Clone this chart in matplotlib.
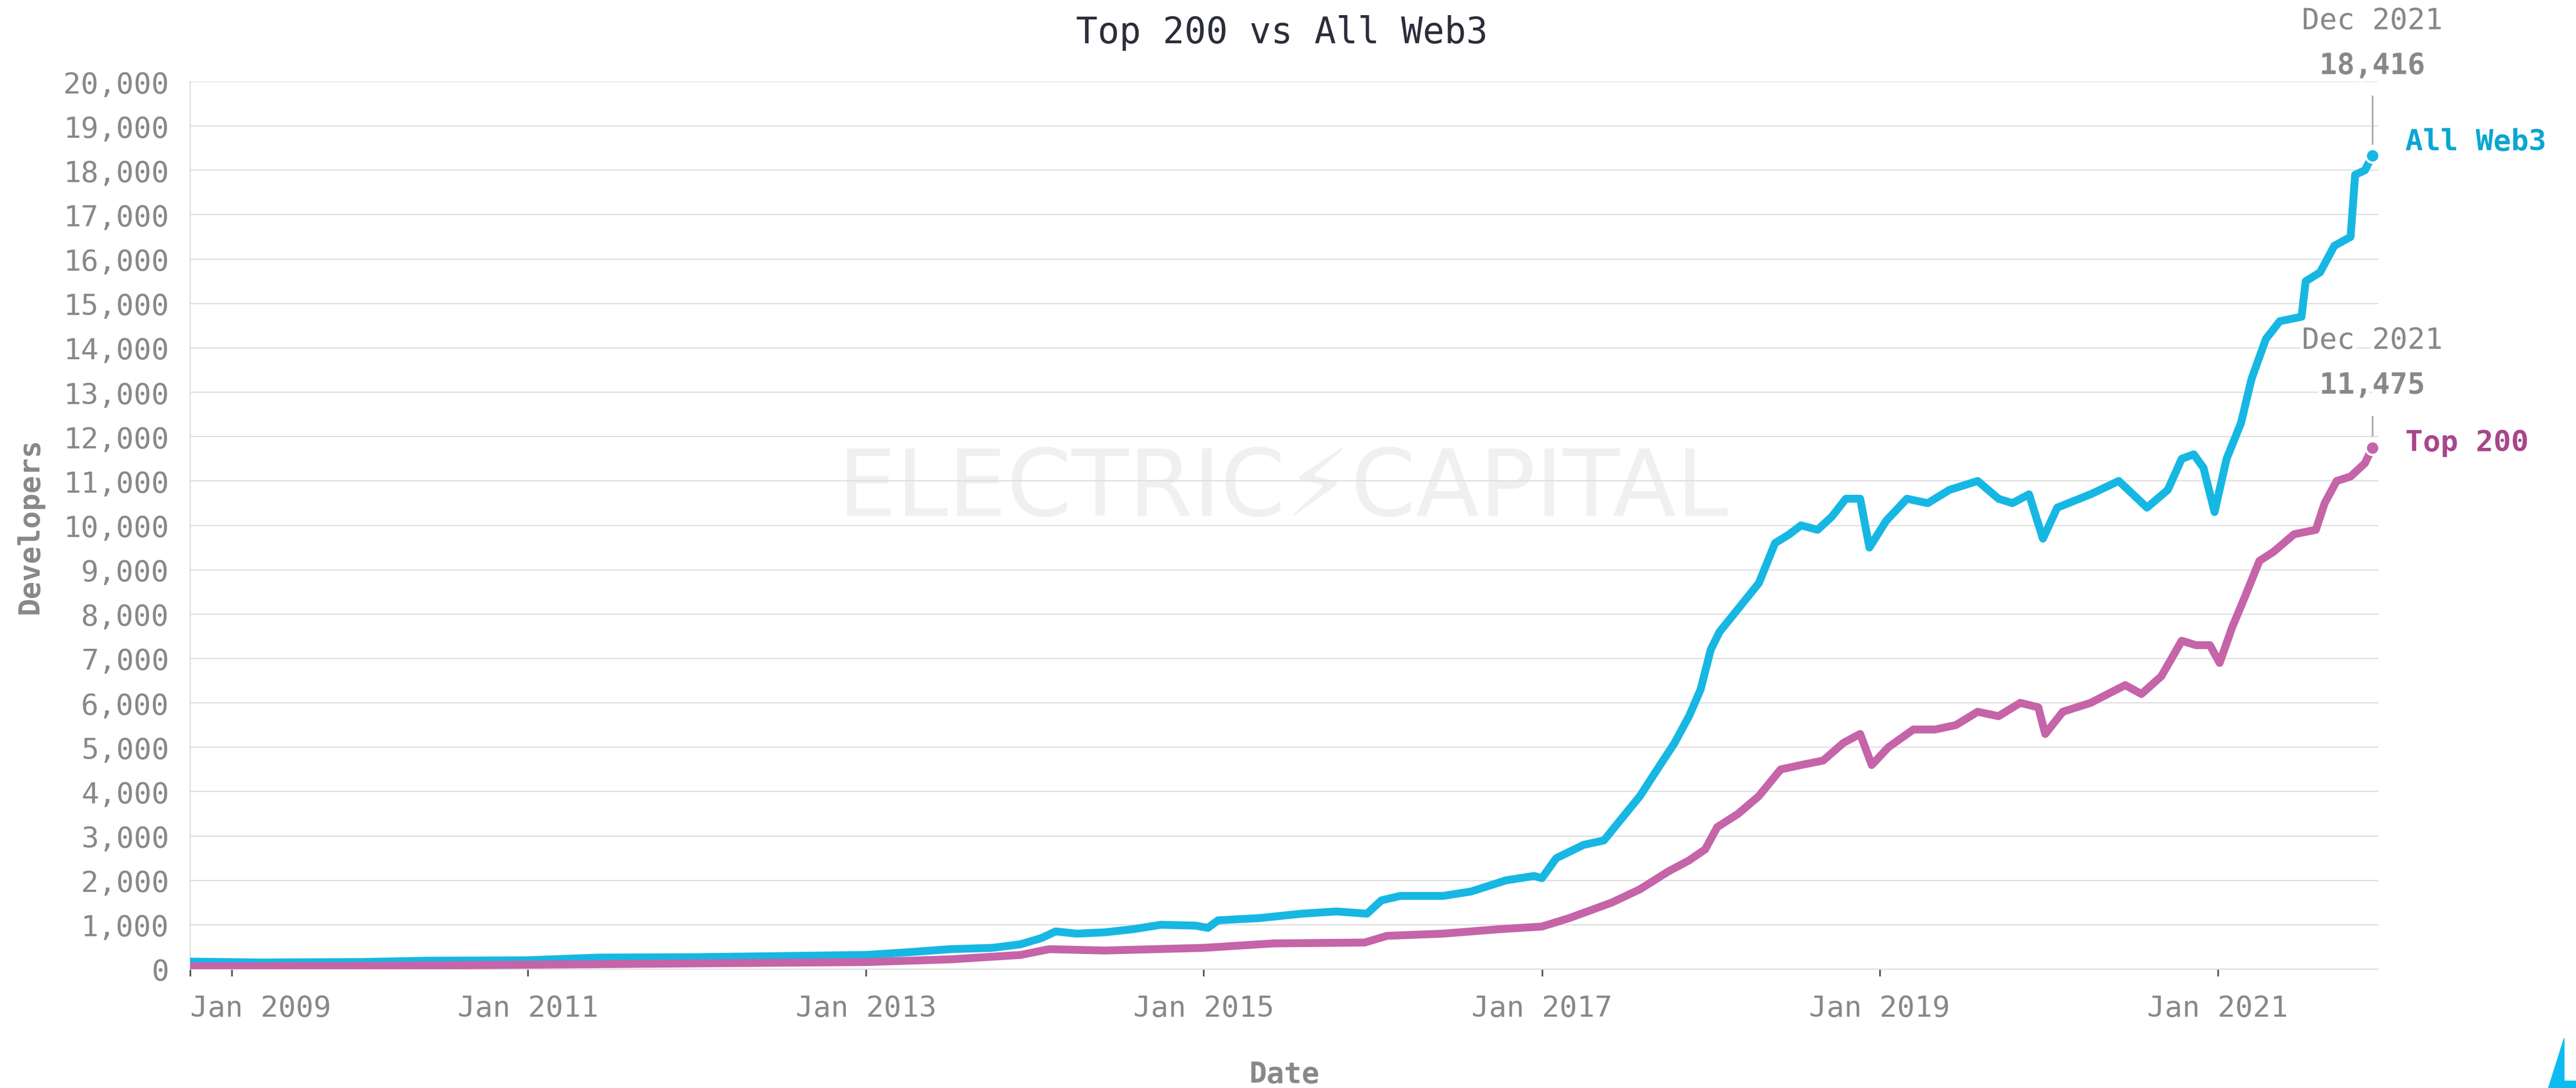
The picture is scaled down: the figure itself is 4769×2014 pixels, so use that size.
import pandas as pd
import numpy as np
import matplotlib.pyplot as plt
import matplotlib.dates as mdates
import matplotlib.patheffects as pe
from matplotlib.patches import Polygon
from matplotlib.ticker import FuncFormatter

# All Web3 developers
web3_dates = [
    "2009-01-01", "2009-06-01", "2010-01-01", "2010-06-01", "2011-01-01", "2011-06-01",
    "2012-01-01", "2012-06-01", "2013-01-01", "2013-04-01", "2013-07-01", "2013-10-01",
    "2013-12-01", "2014-01-15", "2014-02-15", "2014-04-01", "2014-06-01", "2014-08-01",
    "2014-10-01", "2014-12-15", "2015-01-10", "2015-02-01", "2015-05-01", "2015-08-01",
    "2015-10-15", "2015-12-20", "2016-01-20", "2016-03-01", "2016-06-01", "2016-08-01",
    "2016-10-15", "2016-12-15", "2017-01-01", "2017-02-01", "2017-04-01", "2017-05-15",
    "2017-06-15", "2017-08-01", "2017-09-01", "2017-10-15", "2017-11-15", "2017-12-10",
    "2018-01-01", "2018-01-20", "2018-02-20", "2018-04-15", "2018-05-20", "2018-06-20",
    "2018-07-15", "2018-08-20", "2018-09-20", "2018-10-20", "2018-11-20", "2018-12-10",
    "2019-01-15", "2019-03-01", "2019-04-15", "2019-06-01", "2019-08-01", "2019-09-15",
    "2019-10-15", "2019-11-20", "2019-12-20", "2020-01-20", "2020-04-01", "2020-06-01",
    "2020-08-01", "2020-09-15", "2020-10-15", "2020-11-10", "2020-12-01", "2020-12-25",
    "2021-01-20", "2021-02-20", "2021-03-15", "2021-04-15", "2021-05-15", "2021-07-01",
    "2021-07-10", "2021-08-10", "2021-09-10", "2021-10-15", "2021-10-25", "2021-11-15",
    "2021-12-01",
]
web3_devs = [
    170, 150, 160, 190, 200, 260,
    270, 290, 320, 380, 450, 480,
    560, 700, 850, 800, 830, 900,
    1000, 980, 930, 1100, 1150, 1250,
    1300, 1250, 1550, 1650, 1650, 1750,
    2000, 2100, 2050, 2500, 2800, 2900,
    3300, 3900, 4400, 5100, 5700, 6300,
    7200, 7600, 8000, 8700, 9600, 9800,
    10000, 9900, 10200, 10600, 10600, 9500,
    10100, 10600, 10500, 10800, 11000, 10600,
    10500, 10700, 9700, 10400, 10700, 11000,
    10400, 10800, 11500, 11600, 11300, 10300,
    11500, 12300, 13300, 14200, 14600, 14700,
    15500, 15700, 16300, 16500, 17900, 18000,
    18330,
]

# Top 200 developers
top_dates = [
    "2009-01-01", "2010-01-01", "2011-01-01", "2012-01-01", "2013-01-01", "2013-07-01",
    "2013-12-01", "2014-02-01", "2014-06-01", "2015-01-01", "2015-06-01", "2015-12-15",
    "2016-02-01", "2016-06-01", "2016-10-01", "2017-01-01", "2017-03-01", "2017-06-01",
    "2017-08-01", "2017-10-01", "2017-11-15", "2017-12-20", "2018-01-15", "2018-03-01",
    "2018-04-15", "2018-06-01", "2018-07-15", "2018-09-01", "2018-10-15", "2018-11-20",
    "2018-12-15", "2019-01-20", "2019-03-15", "2019-05-01", "2019-06-15", "2019-08-01",
    "2019-09-15", "2019-11-01", "2019-12-10", "2019-12-25", "2020-02-01", "2020-04-01",
    "2020-06-15", "2020-07-20", "2020-09-01", "2020-10-15", "2020-11-15", "2020-12-15",
    "2021-01-05", "2021-02-01", "2021-03-01", "2021-04-01", "2021-05-01", "2021-06-15",
    "2021-08-01", "2021-08-20", "2021-09-15", "2021-10-15", "2021-11-15", "2021-12-01",
]
top_devs = [
    60, 70, 100, 130, 160, 220,
    320, 450, 420, 480, 580, 600,
    750, 800, 900, 960, 1150, 1500,
    1800, 2200, 2450, 2700, 3200, 3500,
    3900, 4500, 4600, 4700, 5100, 5300,
    4600, 5000, 5400, 5400, 5500, 5800,
    5700, 6000, 5900, 5300, 5800, 6000,
    6400, 6200, 6600, 7400, 7300, 7300,
    6900, 7700, 8400, 9200, 9400, 9800,
    9900, 10500, 11000, 11100, 11400, 11750,
]

tick_years = [2009, 2011, 2013, 2015, 2017, 2019, 2021]
y_ticks = list(range(0, 20001, 1000))
end_label = "Dec 2021"
web3_end_text = "18,416"
top_end_text = "11,475"

BLUE = "#17b7e3"
BLUE_TXT = "#0aa6d2"
PINK = "#c564a8"
PINK_TXT = "#a8468b"
GRAY = "#888888"
GRID = "#dedede"

W, H = 4769, 2015
plt.rcParams['font.family'] = ['DejaVu Sans Mono']
fig = plt.figure(figsize=(W / 100, H / 100), dpi=100)
left, right, top, bottom = 352, 4403, 152, 1795
ax = fig.add_axes([left / W, 1 - bottom / H, (right - left) / W, (bottom - top) / H])

web3_x = pd.to_datetime(web3_dates)
top_x = pd.to_datetime(top_dates)

ax.plot(web3_x, web3_devs, color=BLUE, lw=10.5, solid_joinstyle="round", solid_capstyle="round", zorder=3)
ax.plot(top_x, top_devs, color=PINK, lw=10.5, solid_joinstyle="round", solid_capstyle="round", zorder=4)

ax.set_xlim(pd.Timestamp("2009-01-01"), pd.Timestamp("2021-12-14"))
ax.set_ylim(0, 20000)
ax.set_yticks(y_ticks)
ax.yaxis.set_major_formatter(FuncFormatter(lambda v, p: f"{int(v):,}"))
xt = [pd.Timestamp(f"{y}-01-01") for y in tick_years]
ax.set_xticks(xt)
ax.set_xticklabels([f"Jan {y}" for y in tick_years])
ax.set_xticks([pd.Timestamp("2009-04-01")], minor=True)
ax.get_xticklabels()[0].set_horizontalalignment("left")

ax.grid(axis="y", color=GRID, lw=1.6)
ax.set_axisbelow(True)
for s in ["top", "right"]:
    ax.spines[s].set_visible(False)
for s in ["left", "bottom"]:
    ax.spines[s].set_color(GRID)
    ax.spines[s].set_linewidth(1.6)
ax.tick_params(axis="y", length=0, pad=28, labelsize=39, labelcolor=GRAY)
ax.tick_params(axis="x", which="both", length=9.4, width=2.2, color="#555555",
               pad=24, labelsize=39, labelcolor=GRAY)

ax.set_ylabel("Developers", fontsize=39, fontweight="bold", color=GRAY, va="center")
ax.yaxis.set_label_coords((55 - left) / (right - left), 0.5)
ax.set_xlabel("Date", fontsize=39, fontweight="bold", color=GRAY, va="top")
ax.xaxis.set_label_coords(0.5, -(1963 - bottom) / (bottom - top))

fig.text(2373 / W, 1 - 61 / H, "Top 200 vs All Web3", fontsize=48, color="#2b2d3b",
         ha="center", va="center")

# watermark
ax.text(0.4994, (bottom - 955) / (bottom - top), "ELECTRIC\u26a1CAPITAL", transform=ax.transAxes,
        fontsize=124, color="#f0f0f0", ha="center", va="baseline", family="DejaVu Sans", zorder=0.1)

# end-point annotations
halo = [pe.withStroke(linewidth=10, foreground="white")]
def end_marker(x, y, color, txtcolor, name, value_text, line_off, num_off, date_off, name_off):
    ax.scatter([x], [y], s=330, color=color, edgecolor="white", linewidth=3, zorder=6, clip_on=False)
    xp, yp = ax.transData.transform((mdates.date2num(x), y))
    p0 = ax.transData.inverted().transform((xp, yp + line_off[0]))
    p1 = ax.transData.inverted().transform((xp, yp + line_off[1]))
    ax.plot([p0[0], p1[0]], [p0[1], p1[1]], color="#aaaaaa", lw=2.2, zorder=5, clip_on=False)
    ax.annotate(value_text, (x, y), xytext=(0, num_off), textcoords="offset pixels",
                ha="center", va="center", fontsize=39, fontweight="bold", color=GRAY,
                path_effects=halo, annotation_clip=False, zorder=7)
    ax.annotate(end_label, (x, y), xytext=(0, date_off), textcoords="offset pixels",
                ha="center", va="center", fontsize=39, color=GRAY,
                path_effects=halo, annotation_clip=False, zorder=7)
    ax.annotate(name, (x, y), xytext=(61, name_off), textcoords="offset pixels",
                ha="left", va="center", fontsize=39, fontweight="bold", color=txtcolor,
                annotation_clip=False, zorder=7)

end_marker(web3_x[-1], web3_devs[-1], BLUE, BLUE_TXT, "All Web3", web3_end_text,
           (22, 110), 166, 249, 26)
end_marker(top_x[-1], top_devs[-1], PINK, PINK_TXT, "Top 200", top_end_text,
           (23, 58), 115, 198, 10)

# logo corner
logo = [(4747, 1923), (4718, 2015), (4769, 2015), (4769, 2002), (4747, 2002)]
fig.patches.append(Polygon([(px / W, 1 - py / H) for px, py in logo], closed=True,
                           transform=fig.transFigure, color="#0bbcf0"))

fig.savefig("out.png", dpi=100)
